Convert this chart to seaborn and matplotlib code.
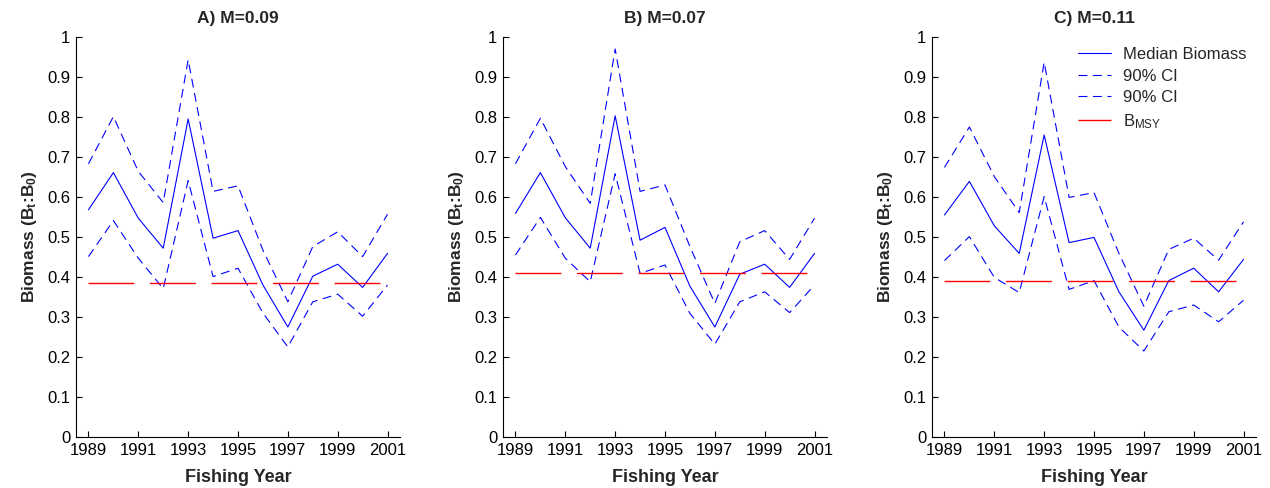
import numpy as np
import pandas as pd
import matplotlib
matplotlib.use("Agg")
import matplotlib.pyplot as plt
import seaborn as sns

years = list(range(1989, 2002))
titles = ["A) M=0.09", "B) M=0.07", "C) M=0.11"]

median_a = [0.568, 0.661, 0.547, 0.472, 0.795, 0.497, 0.516, 0.380, 0.275, 0.402, 0.432, 0.374, 0.459]
upper_a  = [0.683, 0.801, 0.664, 0.586, 0.943, 0.614, 0.628, 0.467, 0.338, 0.476, 0.513, 0.451, 0.557]
lower_a  = [0.451, 0.541, 0.447, 0.371, 0.641, 0.401, 0.422, 0.310, 0.225, 0.338, 0.357, 0.302, 0.380]
bmsy_a = 0.386

median_b = [0.559, 0.661, 0.548, 0.472, 0.803, 0.492, 0.524, 0.377, 0.275, 0.407, 0.432, 0.374, 0.459]
upper_b  = [0.683, 0.797, 0.676, 0.584, 0.970, 0.614, 0.630, 0.476, 0.334, 0.488, 0.516, 0.444, 0.547]
lower_b  = [0.455, 0.549, 0.447, 0.388, 0.658, 0.409, 0.430, 0.309, 0.232, 0.338, 0.363, 0.311, 0.380]
bmsy_b = 0.409

median_c = [0.555, 0.639, 0.528, 0.459, 0.755, 0.486, 0.499, 0.363, 0.267, 0.391, 0.422, 0.363, 0.444]
upper_c  = [0.674, 0.775, 0.651, 0.561, 0.937, 0.599, 0.611, 0.459, 0.327, 0.469, 0.497, 0.442, 0.538]
lower_c  = [0.441, 0.501, 0.399, 0.361, 0.601, 0.369, 0.391, 0.275, 0.215, 0.313, 0.330, 0.288, 0.342]
bmsy_c = 0.390

xticks = [1989, 1991, 1993, 1995, 1997, 1999, 2001]
yticks = [0, 0.1, 0.2, 0.3, 0.4, 0.5, 0.6, 0.7, 0.8, 0.9, 1]
ytick_labels = ["0", "0.1", "0.2", "0.3", "0.4", "0.5", "0.6", "0.7", "0.8", "0.9", "1"]

sns.set_theme(style="ticks")
plt.rcParams['font.family'] = ['Liberation Sans', 'DejaVu Sans']
plt.rcParams['mathtext.fontset'] = 'custom'
plt.rcParams['mathtext.rm'] = 'Liberation Sans'
plt.rcParams['mathtext.it'] = 'Liberation Sans:italic'
plt.rcParams['mathtext.bf'] = 'Liberation Sans:bold'
plt.rcParams['xtick.direction'] = 'in'
plt.rcParams['ytick.direction'] = 'in'

fig = plt.figure(figsize=(12.7, 4.88), dpi=100)
W, H = 1270, 488
lefts = [76, 503, 932]
axw = 324
top, bottom = 37, 437

panels = [
    (median_a, upper_a, lower_a, bmsy_a),
    (median_b, upper_b, lower_b, bmsy_b),
    (median_c, upper_c, lower_c, bmsy_c),
]

blue = (0, 0, 1)
red = (1, 0, 0)

for i, (med, up, lo, bm) in enumerate(panels):
    ax = fig.add_axes([lefts[i] / W, 1 - bottom / H, axw / W, (bottom - top) / H])
    sns.lineplot(x=years, y=med, ax=ax, color=blue, lw=0.8, label="Median Biomass")
    sns.lineplot(x=years, y=up, ax=ax, color=blue, lw=0.8, linestyle=(0, (8, 5)), label="90% CI")
    sns.lineplot(x=years, y=lo, ax=ax, color=blue, lw=0.8, linestyle=(0, (8, 5)), label="90% CI")
    sns.lineplot(x=years, y=np.full(len(years), bm), ax=ax, color=red, lw=1.0,
                 linestyle=(0, (33, 11.3)), label=r"B$_\mathrm{MSY}$")
    ax.set_xlim(1988.5, 2001.5)
    ax.set_ylim(0, 1)
    ax.set_xticks(xticks)
    ax.set_xticklabels([str(x) for x in xticks])
    ax.set_yticks(yticks)
    ax.set_yticklabels(ytick_labels)
    ax.tick_params(labelsize=12, length=4, width=0.8, colors='black', pad=4)
    for s in ['top', 'right']:
        ax.spines[s].set_visible(False)
    for s in ['left', 'bottom']:
        ax.spines[s].set_linewidth(0.8)
        ax.spines[s].set_color('black')
    ax.set_title(titles[i], fontsize=12.5, fontweight='bold', pad=10)
    ax.set_xlabel("Fishing Year", fontsize=13, fontweight='bold', labelpad=8)
    ax.set_ylabel(r"Biomass (B$_\mathbf{t}$:B$_\mathbf{0}$)", fontsize=12.5, fontweight='bold', labelpad=6)
    if i == 2:
        ax.legend(loc='upper right', frameon=False, fontsize=12, handlelength=2.0,
                  labelspacing=0.4, borderaxespad=0.2, handletextpad=0.7)
    else:
        lg = ax.get_legend()
        if lg:
            lg.remove()

fig.savefig("out.png", dpi=100)
